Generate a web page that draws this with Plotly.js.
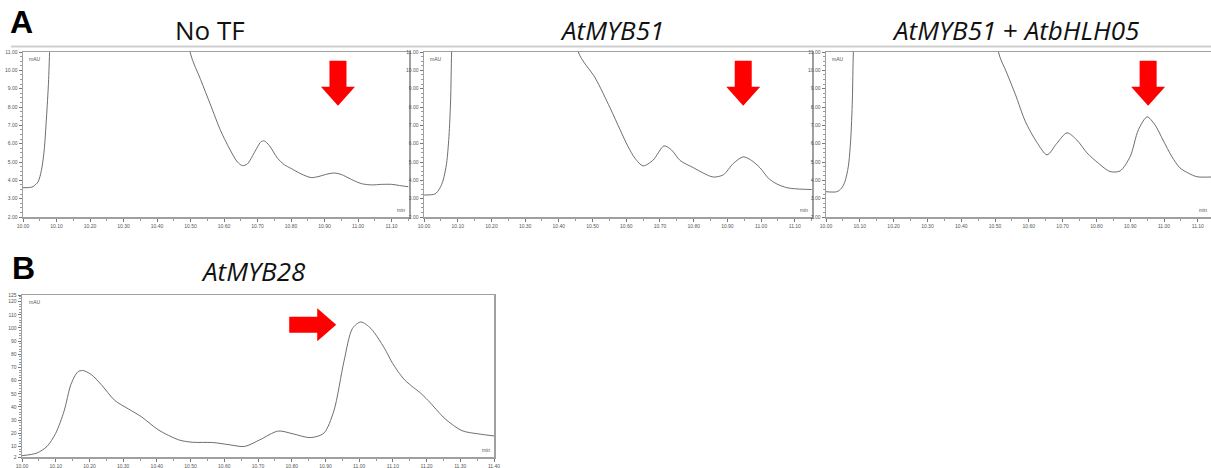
<!DOCTYPE html>
<html>
<head>
<meta charset="utf-8">
<script src="https://cdn.plot.ly/plotly-3.0.1.min.js"></script>
<style>
  html, body { margin: 0; padding: 0; background: #fff; }
  #chart { width: 1211px; height: 468px; }
</style>
</head>
<body>
<div id="chart"></div>
<script>
// ---------- data (retention time in min, absorbance in mAU) ----------
const noTF_time = [10.00, 10.02, 10.03, 10.045, 10.055, 10.063, 10.07, 10.076, 10.08, 10.09,
  10.48, 10.50, 10.53, 10.56, 10.59, 10.62, 10.64, 10.655, 10.67, 10.69, 10.71, 10.72, 10.735,
  10.76, 10.78, 10.80, 10.83, 10.86, 10.88, 10.91, 10.93, 10.95, 10.98, 11.01, 11.04, 11.07,
  11.10, 11.13, 11.15];
const noTF_mAU = [3.60, 3.61, 3.66, 3.92, 4.55, 5.6, 7.4, 9.3, 11.2, 14,
  14, 10.9, 9.5, 8.1, 6.7, 5.6, 5.0, 4.8, 4.9, 5.5, 6.1, 6.15, 5.9,
  5.2, 4.85, 4.65, 4.35, 4.15, 4.2, 4.35, 4.4, 4.32, 4.05, 3.82, 3.75, 3.78,
  3.78, 3.7, 3.65];

const myb51_time = [10.00, 10.033, 10.047, 10.057, 10.067, 10.074, 10.079, 10.082, 10.09,
  10.45, 10.458, 10.508, 10.552, 10.582, 10.605, 10.626, 10.65, 10.68, 10.712, 10.734, 10.76,
  10.80, 10.829, 10.858, 10.888, 10.918, 10.947, 10.972, 10.997, 11.022, 11.047, 11.076,
  11.107, 11.15];
const myb51_mAU = [3.20, 3.26, 3.57, 4.02, 4.93, 6.39, 8.39, 11.0, 14,
  14, 11.0, 9.58, 7.95, 6.75, 5.85, 5.2, 4.79, 5.11, 5.88, 5.66, 5.08,
  4.68, 4.39, 4.18, 4.3, 4.93, 5.28, 5.08, 4.68, 4.11, 3.8, 3.6,
  3.53, 3.5];

const myb51bhlh_time = [10.00, 10.032, 10.046, 10.056, 10.066, 10.073, 10.078, 10.081, 10.09,
  10.50, 10.51, 10.535, 10.56, 10.59, 10.623, 10.654, 10.683, 10.713, 10.742, 10.772, 10.806,
  10.84, 10.87, 10.90, 10.924, 10.95, 10.973, 10.997, 11.023, 11.047, 11.072, 11.097, 11.14];
const myb51bhlh_mAU = [3.38, 3.38, 3.57, 3.93, 4.75, 6.2, 8.39, 11.0, 14,
  14, 11.0, 9.85, 8.7, 7.2, 6.1, 5.39, 6.02, 6.59, 6.2, 5.5, 4.93,
  4.48, 4.51, 5.3, 6.75, 7.46, 7.03, 6.2, 5.3, 4.68, 4.39, 4.2, 4.18];

const myb28_time = [10.00, 10.044, 10.074, 10.10, 10.125, 10.145, 10.165, 10.18, 10.205, 10.235,
  10.275, 10.315, 10.355, 10.405, 10.465, 10.505, 10.565, 10.615, 10.66, 10.705, 10.76, 10.805,
  10.855, 10.895, 10.925, 10.955, 10.98, 11.005, 11.035, 11.075, 11.095, 11.115, 11.135, 11.155,
  11.18, 11.205, 11.255, 11.305, 11.355, 11.40];
const myb28_mAU = [3, 5, 10, 20, 37, 57, 66.5, 67.7, 64.7, 57,
  45, 38.6, 32.4, 22.5, 15, 13.2, 13, 11.3, 10, 15, 21.7, 19.5,
  16.7, 20, 37, 74.7, 99.5, 104.5, 99.5, 84.6, 75, 67, 60.5, 56,
  51, 44.8, 31, 22, 19.5, 18];

// tick labels
const panelA_yticks = [2, 3, 4, 5, 6, 7, 8, 9, 10, 11];
const panelB_yticks = [2, 10, 20, 30, 40, 50, 60, 70, 80, 90, 100, 110, 120, 125];
const panelB_ylabels = ['2', '10', '20', '30', '40', '50', '60', '70', '80', '90', '100', '110', '120', '125'];

// arrow positions (time, mAU of arrow tip)
const arrowA = [[10.94, 8.07], [10.947, 8.07], [10.953, 8.07]];
const arrowB = [10.932, 102.5];

// ---------- styling ----------
const lineStyle = {color: '#5e5e5e', width: 0.9, shape: 'spline', smoothing: 0.8};
const tickFont = {family: 'Liberation Sans, Arial, sans-serif', size: 5, color: '#555'};

function xAxis(domain, range, anchor) {
  return {
    domain: domain, range: range, anchor: anchor,
    tick0: 10, dtick: 0.1, tickformat: '.2f',
    ticks: 'outside', ticklen: 3, tickcolor: '#777', tickwidth: 1,
    minor: {dtick: 0.05, ticks: 'outside', ticklen: 2, tickcolor: '#999', showgrid: false},
    showline: true, mirror: true, linecolor: '#a0a0a0', linewidth: 1.5,
    showgrid: false, zeroline: false, tickfont: tickFont, fixedrange: true
  };
}
function yAxis(domain, range, anchor, tickvals, ticktext, fmt, minorDtick) {
  const ax = {
    domain: domain, range: range, anchor: anchor,
    tickmode: 'array', tickvals: tickvals,
    ticks: 'outside', ticklen: 3, tickcolor: '#777', tickwidth: 1,
    minor: {dtick: minorDtick, ticks: 'outside', ticklen: 2, tickcolor: '#999', showgrid: false},
    showline: true, mirror: true, linecolor: '#a0a0a0', linewidth: 1.5,
    showgrid: false, zeroline: false, tickfont: tickFont, fixedrange: true
  };
  if (ticktext) ax.ticktext = ticktext;
  if (fmt) ax.tickformat = fmt;
  return ax;
}

const W = 1211, H = 468;
const px = v => v / W;
const py = v => 1 - v / H;

const traces = [
  {x: noTF_time, y: noTF_mAU, xaxis: 'x', yaxis: 'y', mode: 'lines', line: lineStyle, hoverinfo: 'skip'},
  {x: myb51_time, y: myb51_mAU, xaxis: 'x2', yaxis: 'y2', mode: 'lines', line: lineStyle, hoverinfo: 'skip'},
  {x: myb51bhlh_time, y: myb51bhlh_mAU, xaxis: 'x3', yaxis: 'y3', mode: 'lines', line: lineStyle, hoverinfo: 'skip'},
  {x: myb28_time, y: myb28_mAU, xaxis: 'x4', yaxis: 'y4', mode: 'lines', line: lineStyle, hoverinfo: 'skip'}
];

const yDomA = [py(217), py(52)];
const yDomB = [py(457), py(295)];

const downArrowPath = 'M0,0 L-17,19 L-8.5,19 L-8.5,45 L8.5,45 L8.5,19 L17,19 Z';
const rightArrowPath = 'M0,0 L-19,16.5 L-19,8 L-47,8 L-47,-8 L-19,-8 L-19,-16.5 Z';

const shapes = [
  // light double rule above the panel A chromatograms
  {type: 'line', xref: 'paper', yref: 'paper', x0: px(11), x1: 1, y0: py(46.5), y1: py(46.5),
   line: {color: '#cfcfcf', width: 2}},
];
['', '2', '3'].forEach((s, i) => {
  shapes.push({type: 'path', xref: 'x' + s, yref: 'y' + s, xsizemode: 'pixel', ysizemode: 'pixel',
    xanchor: arrowA[i][0], yanchor: arrowA[i][1], path: downArrowPath,
    fillcolor: '#ff0000', line: {width: 0}});
});
shapes.push({type: 'path', xref: 'x4', yref: 'y4', xsizemode: 'pixel', ysizemode: 'pixel',
  xanchor: arrowB[0], yanchor: arrowB[1], path: rightArrowPath,
  fillcolor: '#ff0000', line: {width: 0}});

const titleFont = {family: 'Open Sans, Noto Sans, sans-serif', size: 26, color: '#111'};
const letterFont = {family: 'Liberation Sans, Arial, sans-serif', size: 32, color: '#000'};
const smallFont = {family: 'Liberation Sans, Arial, sans-serif', size: 5, color: '#555'};

const annotations = [
  {text: '<b>A</b>', x: px(8), y: py(22), xref: 'paper', yref: 'paper', xanchor: 'left', yanchor: 'middle', showarrow: false, font: letterFont},
  {text: '<b>B</b>', x: px(10), y: py(268), xref: 'paper', yref: 'paper', xanchor: 'left', yanchor: 'middle', showarrow: false, font: letterFont},
  {text: 'No TF', x: px(210), y: py(30), xref: 'paper', yref: 'paper', xanchor: 'center', yanchor: 'middle', showarrow: false, font: titleFont},
  {text: '<i>AtMYB51</i>', x: px(612), y: py(30), xref: 'paper', yref: 'paper', xanchor: 'center', yanchor: 'middle', showarrow: false, font: titleFont},
  {text: '<i>AtMYB51</i> + <i>AtbHLH05</i>', x: px(1015), y: py(30), xref: 'paper', yref: 'paper', xanchor: 'center', yanchor: 'middle', showarrow: false, font: titleFont},
  {text: '<i>AtMYB28</i>', x: px(253), y: py(271), xref: 'paper', yref: 'paper', xanchor: 'center', yanchor: 'middle', showarrow: false, font: titleFont}
];
// unit labels inside each frame
[['x', 'y'], ['x2', 'y2'], ['x3', 'y3'], ['x4', 'y4']].forEach(([xa, ya]) => {
  annotations.push({text: 'mAU', xref: xa + ' domain', yref: ya + ' domain', x: 0.01, y: 0.985,
    xanchor: 'left', yanchor: 'top', showarrow: false, font: smallFont});
  annotations.push({text: 'min', xref: xa + ' domain', yref: ya + ' domain', x: 0.995, y: 0.015,
    xanchor: 'right', yanchor: 'bottom', showarrow: false, font: smallFont});
});

const layout = {
  width: W, height: H,
  margin: {l: 0, r: 0, t: 0, b: 0},
  paper_bgcolor: '#ffffff', plot_bgcolor: '#ffffff',
  showlegend: false,
  xaxis: xAxis([px(23), px(409)], [10.0, 11.152], 'y'),
  yaxis: yAxis(yDomA, [2, 11], 'x', panelA_yticks, null, '.2f', 0.25),
  xaxis2: xAxis([px(424), px(812)], [10.0, 11.151], 'y2'),
  yaxis2: yAxis(yDomA, [2, 11], 'x2', panelA_yticks, null, '.2f', 0.25),
  xaxis3: xAxis([px(826), 1], [10.0, 11.139], 'y3'),
  yaxis3: yAxis(yDomA, [2, 11], 'x3', panelA_yticks, null, '.2f', 0.25),
  xaxis4: xAxis([px(22), px(494)], [10.0, 11.40], 'y4'),
  yaxis4: yAxis(yDomB, [2, 125], 'x4', panelB_yticks, panelB_ylabels, null, 2),
  shapes: shapes,
  annotations: annotations
};

Plotly.newPlot('chart', traces, layout, {displayModeBar: false, staticPlot: true});
</script>
</body>
</html>
